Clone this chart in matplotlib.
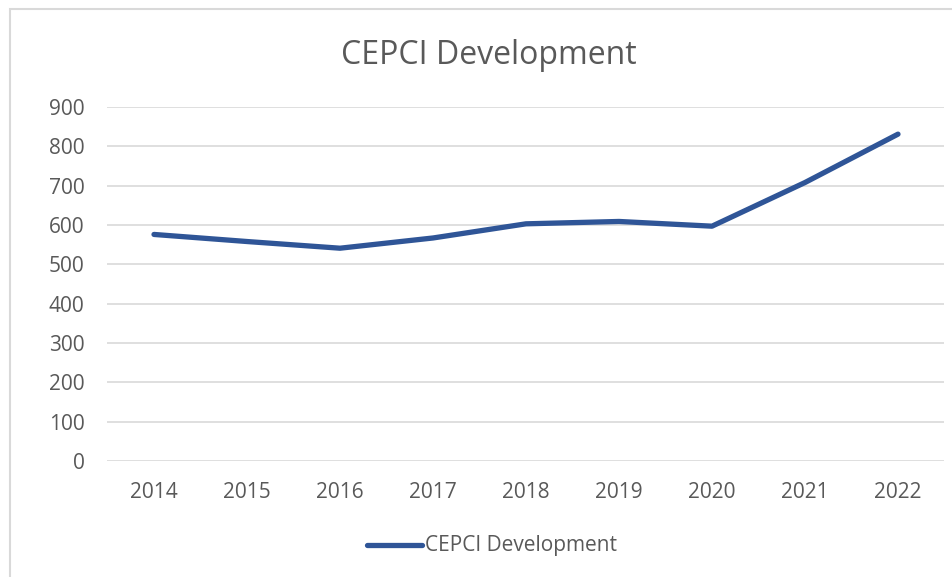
import matplotlib
matplotlib.use("Agg")
import matplotlib.pyplot as plt
from matplotlib.lines import Line2D
from matplotlib.patches import Rectangle

years = ["2014", "2015", "2016", "2017", "2018", "2019", "2020", "2021", "2022"]
cepci = [576, 558, 541, 567, 603, 609, 597, 708, 831]
yticks = [0, 100, 200, 300, 400, 500, 600, 700, 800, 900]

plt.rcParams['font.family'] = ['Open Sans', 'DejaVu Sans']
txt = '#595959'

fig = plt.figure(figsize=(9.53, 5.77), dpi=100)
ax = fig.add_axes([107.5/953, 1-461/577, (944.5-107.5)/953, (461-107)/577])

x = list(range(len(years)))
ax.plot(x, cepci, color='#2F5597', lw=3.8, solid_capstyle='round', solid_joinstyle='round', zorder=3)

ax.set_xlim(-0.5, len(years)-0.5)
ax.set_ylim(0, 900)
ax.set_yticks(yticks)
ax.set_yticklabels([str(v) for v in yticks])
ax.set_xticks(x)
ax.set_xticklabels(years)
ax.tick_params(axis='both', length=0, labelsize=15, colors=txt)
ax.tick_params(axis='y', pad=16.5)
ax.tick_params(axis='x', pad=15)
ax.grid(axis='y', color='#d9d9d9', lw=1.2)
ax.set_axisbelow(True)
for s in ax.spines.values():
    s.set_visible(False)

fig.text(0.513, 1-56/577, "CEPCI Development", ha='center', va='center', fontsize=23, color=txt)

leg_line = Line2D([367/953, 422/953], [1-545/577, 1-545/577], transform=fig.transFigure,
                  color='#2F5597', lw=3.8, solid_capstyle='round')
fig.add_artist(leg_line)
fig.text(425/953, 1-545/577, "CEPCI Development", ha='left', va='center', fontsize=15, color=txt)

# chart border
fig.add_artist(Rectangle((10/953, -0.05), 1.0, 1-9/577+0.05, transform=fig.transFigure,
                         fill=False, edgecolor='#d9d9d9', lw=1.5))

fig.savefig("out.png", dpi=100)
